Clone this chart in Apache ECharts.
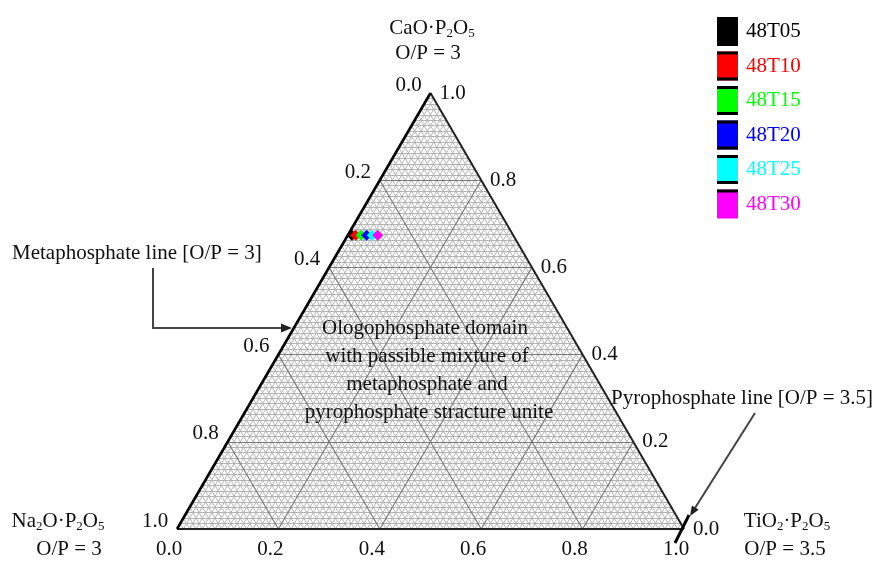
<!DOCTYPE html>
<html>
<head>
<meta charset="utf-8">
<script src="https://cdn.jsdelivr.net/npm/echarts@6/dist/echarts.min.js"></script>
<style>
  html, body { margin: 0; padding: 0; background: #ffffff; }
  #chart { width: 875px; height: 561px; }
</style>
</head>
<body>
<div id="chart"></div>
<script>
// Samples: glass series 48T05 ... 48T30
const sampleNames = ['48T05', '48T10', '48T15', '48T20', '48T25', '48T30'];
const sampleColors = ['#000000', '#ff0000', '#00ff00', '#0000ff', '#00ffff', '#ff00ff'];
// Mole fractions of the three end members (Na2O·P2O5 is the remainder)
const caoFractions = [0.674, 0.674, 0.674, 0.674, 0.674, 0.674];
const tio2Fractions = [0.008, 0.015, 0.026, 0.037, 0.048, 0.059];

// Axis ticks
const tickValues = [0.0, 0.2, 0.4, 0.6, 0.8, 1.0];
const tickLabels = ['0.0', '0.2', '0.4', '0.6', '0.8', '1.0'];

// Grid density: minor every 1/80, major every 0.2
const minorDivisions = 80;
const majorEvery = 16;

const SERIF = '"Liberation Serif", "DejaVu Serif", serif';
const SQ = Math.sqrt(3) / 2;

// Ternary (CaO, TiO2) -> cartesian (x, y), Na2O vertex at the origin
function pt(ca, ti) { return [ti + ca / 2, ca * SQ]; }

const minorLines = [], majorLines = [];
for (let k = 1; k < minorDivisions; k++) {
  const f = k / minorDivisions;
  const bucket = (k % majorEvery === 0) ? majorLines : minorLines;
  bucket.push({ coords: [pt(f, 0), pt(f, 1 - f)] });       // constant CaO
  bucket.push({ coords: [pt(0, f), pt(1 - f, f)] });       // constant TiO2
  bucket.push({ coords: [pt(1 - f, 0), pt(0, 1 - f)] });   // constant Na2O
}

function tickSeries(points, offset) {
  return {
    type: 'scatter',
    symbol: 'circle',
    symbolSize: 0.1,
    itemStyle: { color: '#111', opacity: 1 },
    silent: true,
    z: 6,
    data: points,
    label: {
      show: true,
      position: 'inside',
      offset: offset,
      formatter: (p) => tickLabels[p.dataIndex],
      fontFamily: SERIF,
      fontSize: 21,
      color: '#111',
      opacity: 1
    }
  };
}

const sampleSeries = sampleNames.map((name, i) => ({
  name: name,
  type: 'scatter',
  symbol: 'diamond',
  symbolSize: 11,
  itemStyle: { color: sampleColors[i], opacity: 1 },
  z: 10 + i,
  data: [pt(caoFractions[i], tio2Fractions[i])]
}));

const chart = echarts.init(document.getElementById('chart'), null, { renderer: 'canvas' });

const legendTop = 17, legendItemH = 29, legendGap = 5.5, legendLeft = 717, legendItemW = 21;
const legendBars = [];
sampleNames.forEach((n, i) => {
  const y0 = legendTop + i * (legendItemH + legendGap);
  legendBars.push({ type: 'rect', shape: { x: legendLeft, y: y0, width: legendItemW, height: 3 }, style: { fill: '#000' }, z: 100 });
  if (i < sampleNames.length - 1) {
    legendBars.push({ type: 'rect', shape: { x: legendLeft, y: y0 + legendItemH - 3, width: legendItemW, height: 3 }, style: { fill: '#000' }, z: 100 });
  }
});

const subRich = {
  a: { fontFamily: SERIF, fontSize: 21, lineHeight: 24, fill: '#111', color: '#111' },
  s: { fontFamily: SERIF, fontSize: 13, lineHeight: 12, verticalAlign: 'bottom', fill: '#111', color: '#111' }
};

function label(text, x, y, align) {
  return {
    type: 'text', x: x, y: y, z: 50,
    style: { text: text, font: '21px ' + SERIF, fill: '#111', align: align || 'center', verticalAlign: 'middle' }
  };
}
function richLabel(text, x, y) {
  return {
    type: 'text', x: x, y: y, z: 50,
    style: { text: text, rich: subRich, font: '21px ' + SERIF, fill: '#111', align: 'center', verticalAlign: 'middle' }
  };
}

chart.setOption({
  animation: false,
  backgroundColor: '#ffffff',
  grid: { left: 177, top: 93, width: 507, height: 436, containLabel: false },
  xAxis: { type: 'value', min: 0, max: 1, show: false },
  yAxis: { type: 'value', min: 0, max: SQ, show: false },
  legend: {
    orient: 'vertical',
    left: legendLeft,
    top: legendTop,
    padding: 0,
    itemWidth: legendItemW,
    itemHeight: legendItemH,
    itemGap: legendGap,
    icon: 'rect',
    selectedMode: false,
    itemStyle: { opacity: 1 },
    textStyle: { fontFamily: SERIF, fontSize: 21, padding: [0, 0, 0, 3] },
    data: sampleNames.map((n, i) => ({ name: n, textStyle: { color: sampleColors[i] } }))
  },
  graphic: [
    richLabel('{a|CaO·P}{s|2}{a|O}{s|5}', 432, 28),
    label('O/P = 3', 428, 53),
    richLabel('{a|Na}{s|2}{a|O·P}{s|2}{a|O}{s|5}', 58, 521),
    label('O/P = 3', 69, 549),
    richLabel('{a|TiO}{s|2}{a|·P}{s|2}{a|O}{s|5}', 787, 521),
    label('O/P = 3.5', 785, 549),
    label('Metaphosphate line [O/P = 3]', 12, 253, 'left'),
    label('Pyrophosphate line [O/P = 3.5]', 611, 398, 'left'),
    label('Ologophosphate domain', 425, 328),
    label('with passible mixture of', 427, 356),
    label('metaphosphate and', 427, 384),
    label('pyrophosphate stracture unite', 429, 412),
    // arrow to the metaphosphate line
    { type: 'polyline', z: 40, shape: { points: [[153, 268], [153, 328], [283, 328]] }, style: { stroke: '#444', lineWidth: 2, fill: null } },
    { type: 'polygon', z: 40, shape: { points: [[292, 328], [281, 323.5], [281, 332.5]] }, style: { fill: '#222' } },
    // arrow to the pyrophosphate corner
    { type: 'line', z: 40, shape: { x1: 755, y1: 413, x2: 695, y2: 508 }, style: { stroke: '#444', lineWidth: 2 } },
    { type: 'polygon', z: 40, shape: { points: [[690, 516], [698.7, 509.7], [691.9, 505.4]] }, style: { fill: '#222' } },
    // pyrophosphate line marker at the TiO2 corner
    { type: 'line', z: 40, shape: { x1: 689, y1: 515, x2: 675, y2: 543 }, style: { stroke: '#000', lineWidth: 3 } }
  ].concat(legendBars),
  series: [
    {
      type: 'lines', coordinateSystem: 'cartesian2d', silent: true, z: 1,
      lineStyle: { color: '#b4b4b4', width: 1, opacity: 1 },
      data: minorLines
    },
    {
      type: 'lines', coordinateSystem: 'cartesian2d', silent: true, z: 2,
      lineStyle: { color: '#7a7a7a', width: 1.2, opacity: 1 },
      data: majorLines
    },
    {
      type: 'lines', coordinateSystem: 'cartesian2d', silent: true, z: 3,
      lineStyle: { color: '#222', width: 2, opacity: 1 },
      data: [
        { coords: [pt(0, 0), pt(0, 1)] },
        { coords: [pt(0, 1), pt(1, 0)] }
      ]
    },
    {
      type: 'lines', coordinateSystem: 'cartesian2d', silent: true, z: 4,
      lineStyle: { color: '#000', width: 2.6, opacity: 1 },
      data: [{ coords: [pt(0, 0), pt(1, 0)] }]
    },
    tickSeries(tickValues.map(v => pt(1 - v, 0)), [-22, -8]),
    tickSeries(tickValues.map(v => pt(v, 1 - v)), [22, 0]),
    tickSeries(tickValues.map(v => pt(0, v)), [-8, 20])
  ].concat(sampleSeries)
});
</script>
</body>
</html>
